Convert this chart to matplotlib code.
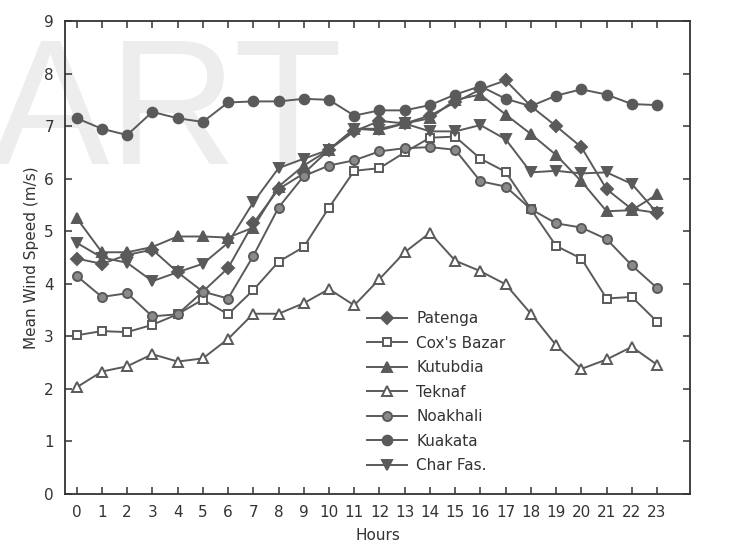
import matplotlib
matplotlib.use("Agg")
import matplotlib.pyplot as plt
import numpy as np

plt.rcParams['font.family'] = ['Liberation Sans Narrow', 'DejaVu Sans']

hours = list(range(24))

patenga = [4.48, 4.38, 4.55, 4.65, 4.22, 3.85, 4.30, 5.15, 5.80, 6.10, 6.55, 6.90,
           7.10, 7.05, 7.20, 7.45, 7.70, 7.87, 7.38, 7.00, 6.60, 5.80, 5.42, 5.35]
coxs_bazar = [3.02, 3.10, 3.08, 3.22, 3.42, 3.70, 3.42, 3.88, 4.42, 4.70, 5.45, 6.15,
              6.20, 6.50, 6.78, 6.80, 6.38, 6.13, 5.42, 4.72, 4.48, 3.72, 3.75, 3.28]
kutubdia = [5.25, 4.60, 4.60, 4.70, 4.90, 4.90, 4.88, 5.07, 5.85, 6.25, 6.55, 6.95,
            6.95, 7.05, 7.15, 7.50, 7.60, 7.22, 6.85, 6.45, 5.95, 5.38, 5.40, 5.70]
teknaf = [2.03, 2.33, 2.43, 2.66, 2.52, 2.58, 2.95, 3.43, 3.43, 3.63, 3.90, 3.59,
          4.09, 4.60, 4.97, 4.44, 4.24, 3.99, 3.43, 2.83, 2.38, 2.56, 2.80, 2.46]
noakhali = [4.15, 3.75, 3.82, 3.38, 3.42, 3.85, 3.72, 4.53, 5.45, 6.05, 6.25, 6.35,
            6.52, 6.58, 6.60, 6.55, 5.95, 5.85, 5.42, 5.15, 5.07, 4.85, 4.35, 3.92]
kuakata = [7.15, 6.95, 6.83, 7.27, 7.15, 7.08, 7.45, 7.47, 7.47, 7.52, 7.50, 7.20,
           7.30, 7.30, 7.40, 7.60, 7.76, 7.52, 7.38, 7.58, 7.70, 7.60, 7.42, 7.40]
char_fas = [4.78, 4.50, 4.40, 4.05, 4.22, 4.38, 4.78, 5.55, 6.20, 6.38, 6.55, 6.95,
            6.92, 7.05, 6.90, 6.90, 7.02, 6.75, 6.12, 6.15, 6.10, 6.12, 5.90, 5.35]

names = ['Patenga', "Cox's Bazar", 'Kutubdia', 'Teknaf', 'Noakhali', 'Kuakata', 'Char Fas.']
series = [patenga, coxs_bazar, kutubdia, teknaf, noakhali, kuakata, char_fas]

ink = '#5a5a5a'
# marker, face colour, size
styles = [('D', ink, 6), ('s', 'white', 6), ('^', ink, 7), ('^', 'white', 7),
          ('o', '#8a8a8a', 6.5), ('o', ink, 7), ('v', ink, 7)]

fig = plt.figure(figsize=(7.51, 5.50), dpi=100)
ax = fig.add_axes([0.0866, 0.1018, 0.832, 0.860])

# faint watermark behind the lines
ax.text(-0.012, 0.785, 'ART', transform=fig.transFigure, fontsize=128,
        color='#ededed', family='Liberation Sans', ha='left', va='center',
        zorder=0.5, clip_on=False)

for vals, name, (mk, fc, ms) in zip(series, names, styles):
    ax.plot(hours, vals, color=ink, lw=1.4, marker=mk, markersize=ms,
            markerfacecolor=fc, markeredgecolor=ink, markeredgewidth=1.4,
            label=name, zorder=3)

ax.set_xlim(-0.46, 24.3)
ax.set_ylim(0, 9)
ax.set_xticks(hours)
ax.set_yticks(range(10))
ax.tick_params(direction='in', top=True, right=True, length=5, width=1.1,
               labelsize=11, colors='#333333', pad=8)
for s in ax.spines.values():
    s.set_linewidth(1.3)
    s.set_color('#333333')

ax.set_xlabel('Hours', fontsize=11, color='#333333', labelpad=6)
ax.set_ylabel('Mean Wind Speed (m/s)', fontsize=11, color='#333333', labelpad=4)

ax.legend(loc='lower left', bbox_to_anchor=(0.462, 0.015), frameon=False,
          fontsize=11, handlelength=2.6, labelspacing=0.62, handletextpad=0.6,
          labelcolor='#333333')

fig.savefig('out.png', dpi=100)
